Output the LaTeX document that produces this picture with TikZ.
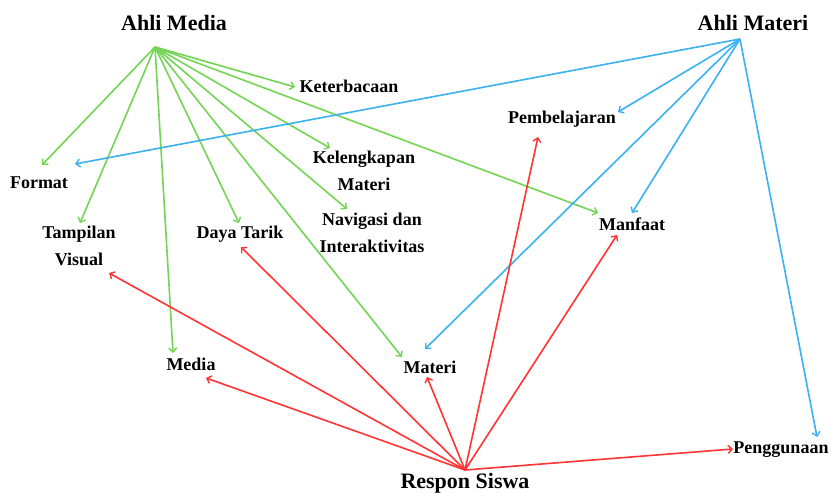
\documentclass[tikz,border=0pt]{standalone}
\usepackage{fontspec}
\setmainfont{Liberation Serif}
\usetikzlibrary{arrows.meta}
\definecolor{cgreen}{RGB}{116,212,84}
\definecolor{cblue}{RGB}{58,178,242}
\definecolor{cred}{RGB}{255,52,52}
\tikzset{
  lbl/.style={font=\bfseries\fontsize{18}{27}\selectfont, inner sep=0pt, anchor=base},
  ttl/.style={font=\bfseries\fontsize{22}{26}\selectfont, inner sep=0pt, anchor=base},
  conn/.style={line width=1.6pt, -{Straight Barb[length=4pt,width=8pt,line width=1.4pt]}},
  gr/.style={conn, draw=cgreen},
  bl/.style={conn, draw=cblue},
  rd/.style={conn, draw=cred}
}
\newcommand{\twoline}[2]{\begin{tabular}[t]{@{}c@{}}#1\\#2\end{tabular}}
\begin{document}
\begin{tikzpicture}[x=1pt,y=-1pt]
\useasboundingbox[fill=white] (0,0) rectangle (831,493);
% titles
\node[ttl] (ahlimedia) at (174,30) {Ahli Media};
\node[ttl] (ahlimateri) at (753,30) {Ahli Materi};
\node[ttl] (respon) at (465,488) {Respon Siswa};
% labels
\node[lbl] (keter) at (349,92) {Keterbacaan};
\node[lbl] (format) at (39,188) {Format};
\node[lbl] (tampilan) at (79,238) {\twoline{Tampilan}{Visual}};
\node[lbl] (daya) at (240,238) {Daya Tarik};
\node[lbl] (kelengkapan) at (364,163) {\twoline{Kelengkapan}{Materi}};
\node[lbl] (navigasi) at (372,225) {\twoline{Navigasi dan}{Interaktivitas}};
\node[lbl] (pembelajaran) at (562,123) {Pembelajaran};
\node[lbl] (manfaat) at (632,230) {Manfaat};
\node[lbl] (media) at (191,370) {Media};
\node[lbl] (materi) at (430,373) {Materi};
\node[lbl] (penggunaan) at (781,453) {Penggunaan};
% sources
\coordinate (sAM) at (155,47);
\coordinate (sAT) at (740,39);
\coordinate (sRS) at (465,470);
% tips green
\coordinate (gFormat) at (42,165);
\coordinate (gTampilan) at (80,223);
\coordinate (gMedia) at (173,353);
\coordinate (gDaya) at (239,223);
\coordinate (gMateri) at (402,357);
\coordinate (gNavigasi) at (347,209);
\coordinate (gKelengkapan) at (330,148);
\coordinate (gKeter) at (295,87);
\coordinate (gManfaat) at (598,213);
% tips blue
\coordinate (bFormat) at (75,164);
\coordinate (bPembelajaran) at (618,112);
\coordinate (bManfaat) at (632,213);
\coordinate (bMateri) at (425,349);
\coordinate (bPenggunaan) at (817,437);
% tips red
\coordinate (rTampilan) at (109,273);
\coordinate (rMedia) at (206,378);
\coordinate (rDaya) at (241,247);
\coordinate (rMateri) at (427,377);
\coordinate (rPembelajaran) at (538,137);
\coordinate (rManfaat) at (617,235);
\coordinate (rPenggunaan) at (733,449);
% green connectors
\foreach \t in {gFormat,gTampilan,gMedia,gDaya,gMateri,gNavigasi,gKelengkapan,gKeter,gManfaat}
  \draw[gr] (sAM) -- (\t);
% blue connectors
\foreach \t in {bFormat,bPembelajaran,bManfaat,bMateri,bPenggunaan}
  \draw[bl] (sAT) -- (\t);
% red connectors
\foreach \t in {rTampilan,rMedia,rDaya,rMateri,rPembelajaran,rManfaat,rPenggunaan}
  \draw[rd] (sRS) -- (\t);
\end{tikzpicture}
\end{document}
